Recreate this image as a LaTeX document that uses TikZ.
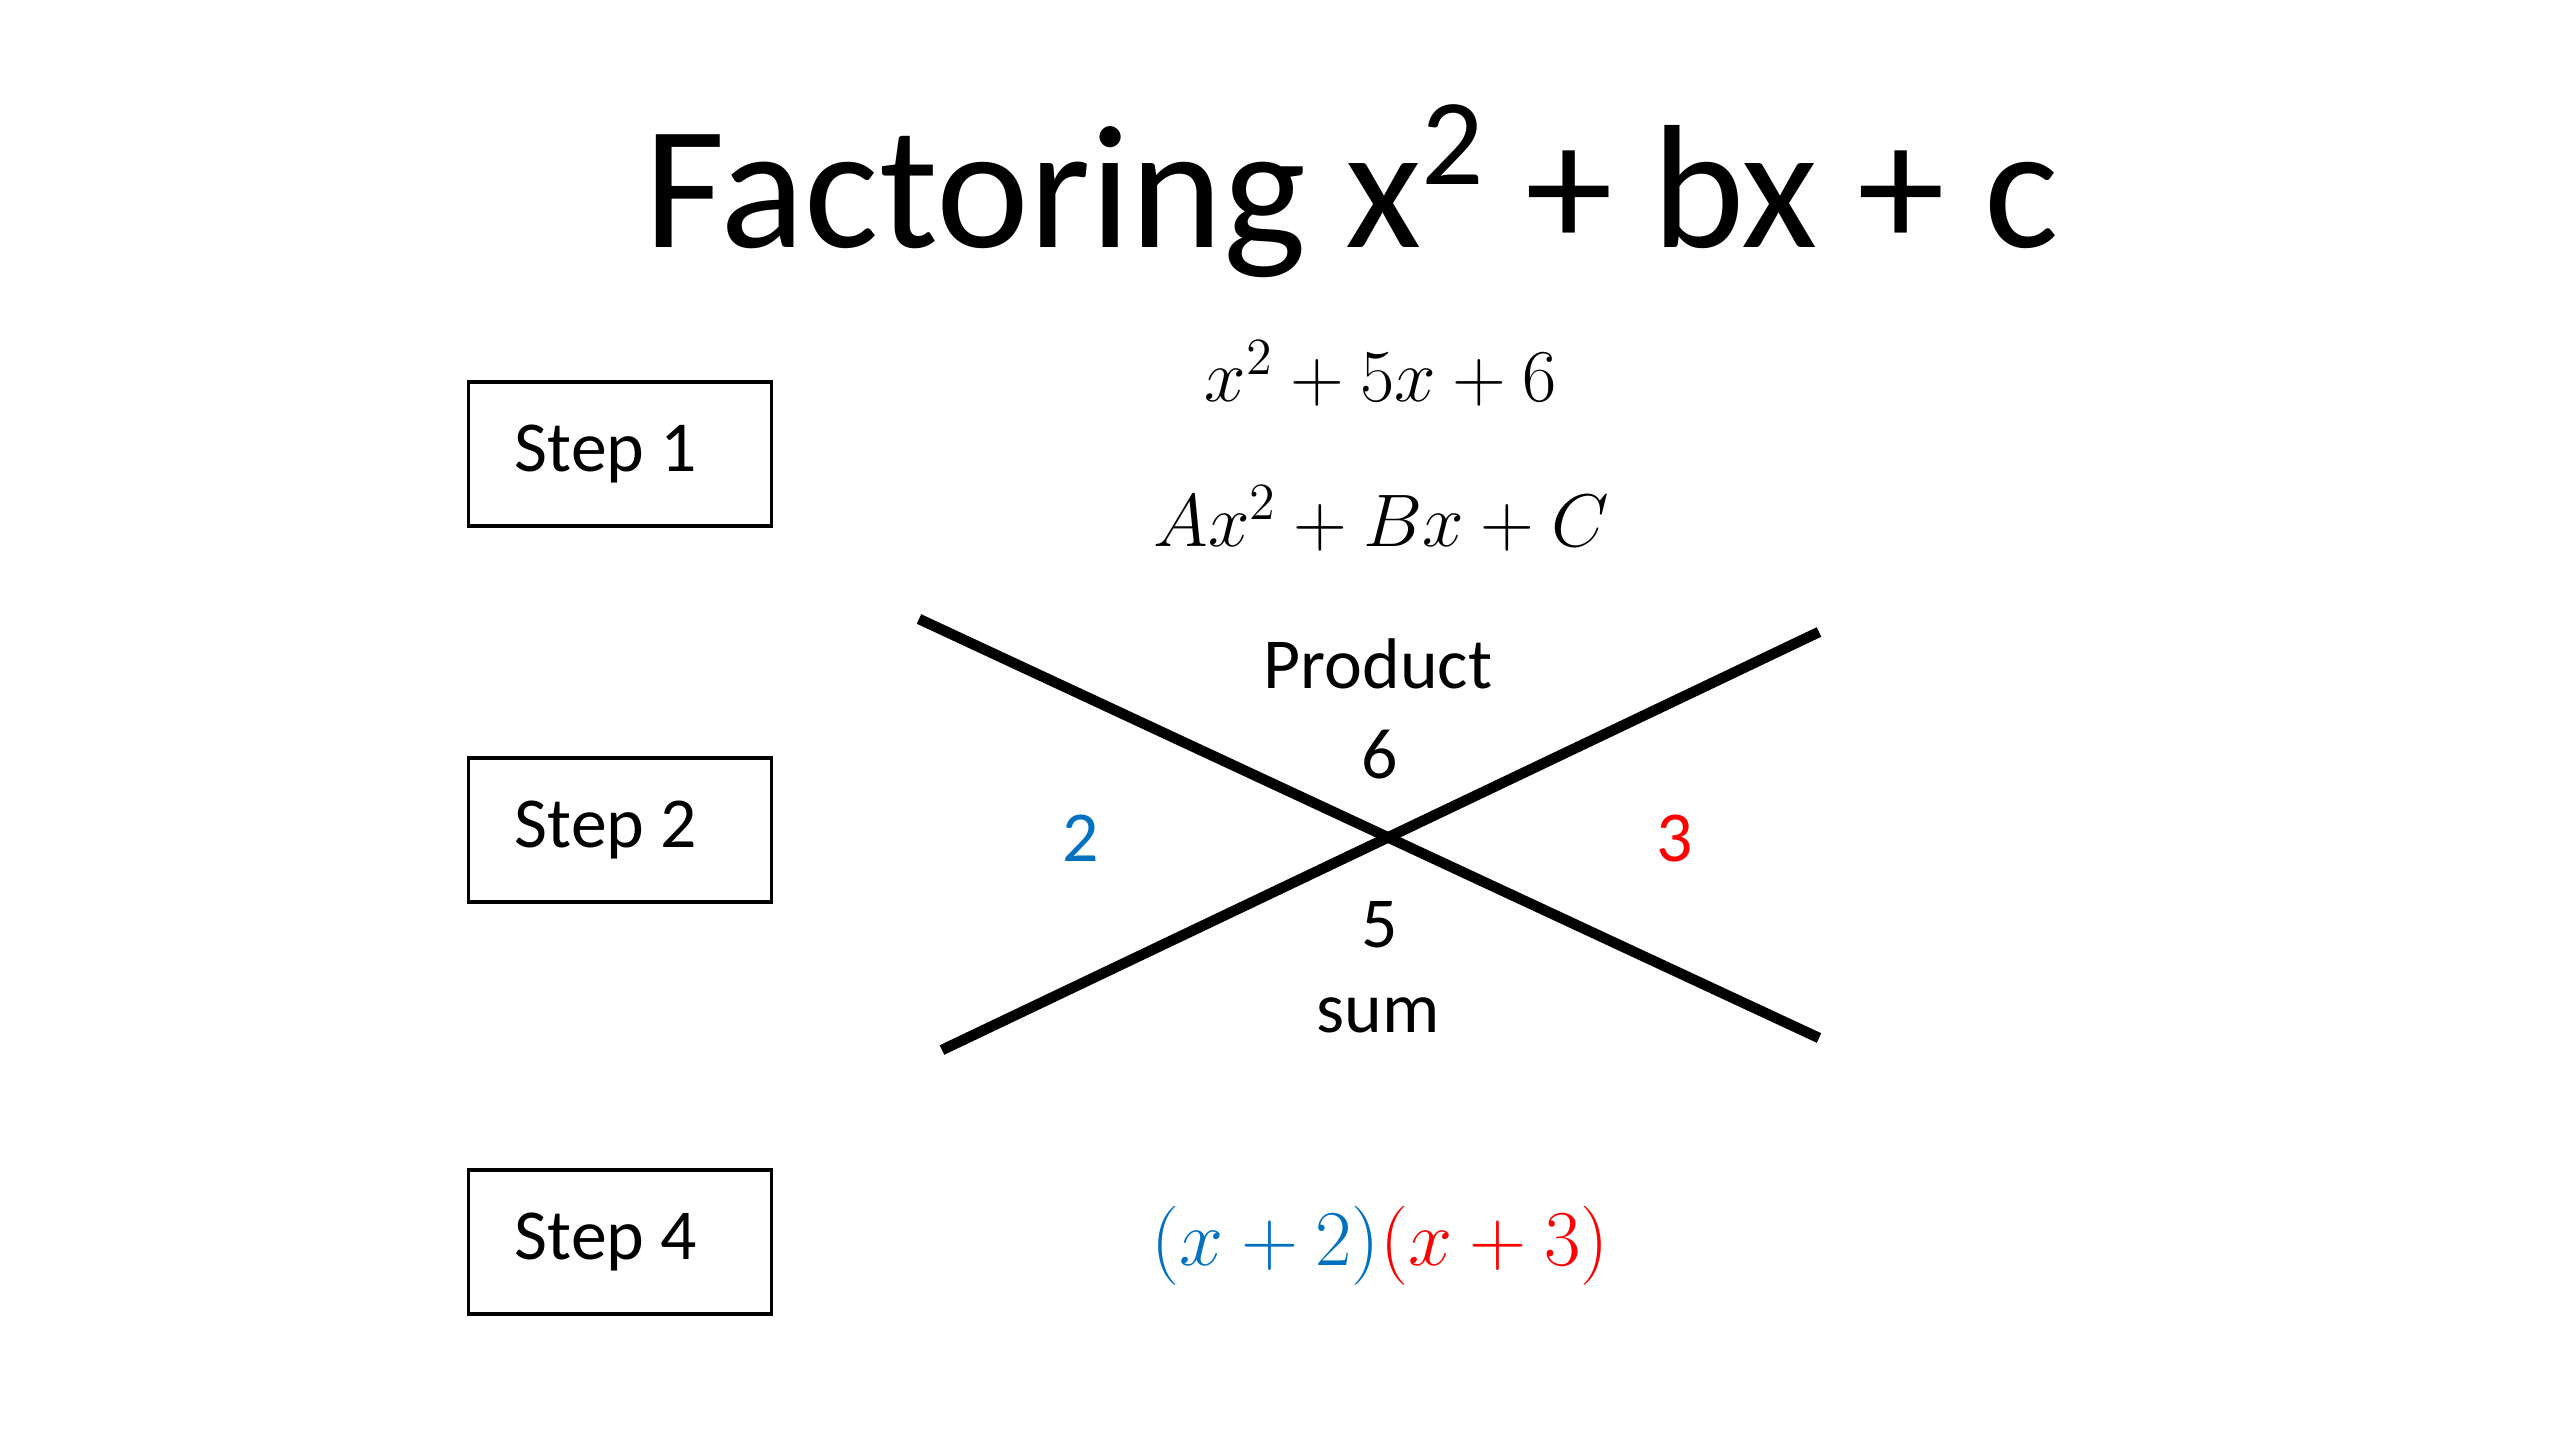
\documentclass[tikz,border=0pt]{standalone}
\usepackage{fix-cm}
\usepackage{fontspec}
\setmainfont{Carlito}
\usetikzlibrary{positioning}
\definecolor{factorblue}{RGB}{0,112,192}
\definecolor{factorred}{RGB}{255,0,0}

\begin{document}
\begin{tikzpicture}[
  x=0.01cm, y=-0.01cm,
  stepbox/.style={draw, line width=0.9pt, minimum width=3.03cm,
                  minimum height=1.44cm, text width=2.1cm, align=flush left,
                  inner sep=0pt, font=\fontsize{20.4}{25}\selectfont},
  crossline/.style={line width=3pt},
  eqn/.style={anchor=base, font=\fontsize{21.2}{25}\selectfont},
  crosstxt/.style={anchor=base, font=\fontsize{20.4}{25}\selectfont}
]
  \useasboundingbox (0,0) rectangle (2560,1440);

  \node[anchor=base, font=\fontsize{50}{60}\selectfont] (title) at (1352,248)
    {Factoring x\textsuperscript{2} + bx + c};

  \node[stepbox] (S1) at (620,454) {Step 1};
  \node[stepbox] (S2) at (620,830) {Step 2};
  \node[stepbox] (S4) at (620,1242) {Step 4};

  \node[eqn] (poly) at (1381,402) {$x^2+5x+6$};
  \node[eqn] (gen) at (1381,547) {$Ax^2+Bx+C$};

  % the x
  \coordinate (ul) at (919,619);
  \coordinate (lr) at (1819,1038);
  \coordinate (ll) at (942,1050);
  \coordinate (ur) at (1819,632);
  \draw[crossline] (ul) -- (lr);
  \draw[crossline] (ll) -- (ur);

  \node[crosstxt] (prod) at (1378,689) {Product};
  \node[crosstxt] (six) at (1380,779) {6};
  \node[crosstxt] (five) at (1380,947) {5};
  \node[crosstxt] (sum) at (1378,1032) {sum};
  \node[crosstxt, text=factorblue] (two) at (1081,862) {2};
  \node[crosstxt, text=factorred] (three) at (1675,862) {3};

  \node[eqn, font=\fontsize{22.5}{27}\selectfont] (answer) at (1380,1265)
    {\color{factorblue}$(x+2)$\color{factorred}$(x+3)$};
\end{tikzpicture}
\end{document}
